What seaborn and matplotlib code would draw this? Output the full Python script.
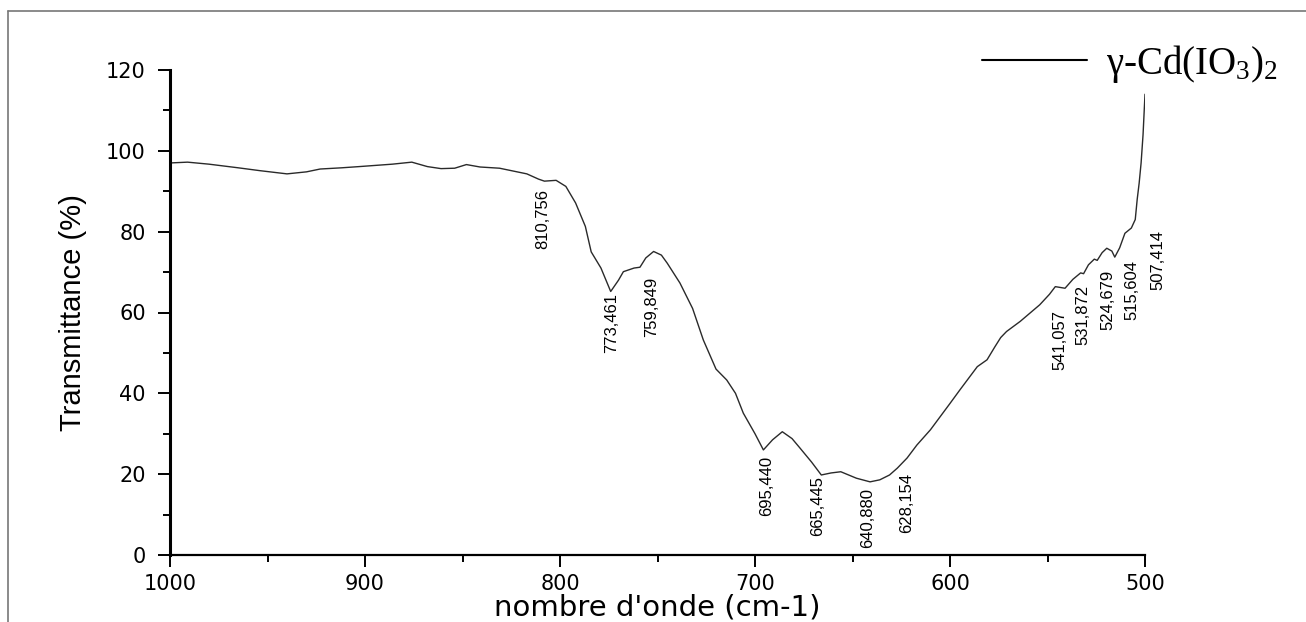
import numpy as np
import pandas as pd
import matplotlib
matplotlib.use("Agg")
import matplotlib.pyplot as plt
from matplotlib.lines import Line2D
from matplotlib.ticker import MultipleLocator
import seaborn as sns

# --- spectre IR (nombre d'onde en cm-1, transmittance en %) ---
wavenumber = [1000, 991, 980, 965, 954, 940, 930, 923, 912, 903, 886, 876, 868, 861,
              854, 848, 841, 831, 824, 817, 811, 808, 802, 797, 792, 787, 784, 779,
              774, 770, 767.5, 762, 759, 756, 752, 748, 745, 738.5, 732, 726.5, 720,
              714.5, 710, 706, 700, 695.7, 691, 686, 681, 677, 671, 666, 661, 656,
              652, 648, 641, 636, 631, 627, 622, 617, 610, 600, 595, 586, 581, 577,
              574, 571, 564, 554, 549, 546, 541, 537, 533, 531.5, 529, 526, 524.5,
              522, 519.6, 517, 515.5, 513, 510.3, 507, 505, 504, 503, 502, 501, 500]
transmittance = [97.0, 97.2, 96.7, 95.8, 95.1, 94.3, 94.8, 95.5, 95.8, 96.1, 96.7, 97.2,
                 96.1, 95.6, 95.7, 96.6, 96.0, 95.7, 95.0, 94.3, 93.0, 92.5, 92.7, 91.2,
                 87.1, 81.3, 75.0, 71.0, 65.2, 68.0, 70.1, 71.0, 71.2, 73.5, 75.1, 74.2,
                 72.2, 67.3, 61.0, 53.2, 46.0, 43.3, 40.0, 35.1, 30.0, 26.0, 28.5, 30.5,
                 28.8, 26.5, 23.0, 19.8, 20.3, 20.6, 19.8, 19.0, 18.1, 18.6, 19.8, 21.5,
                 24.0, 27.2, 31.0, 37.5, 40.8, 46.6, 48.3, 51.5, 53.8, 55.3, 57.8, 61.9,
                 64.5, 66.4, 66.0, 68.2, 69.8, 69.6, 71.8, 73.2, 72.9, 74.8, 75.9, 75.2,
                 73.7, 76.0, 79.6, 80.9, 83.0, 88.0, 92.0, 97.0, 104.0, 114.0]

# pics annotés
peak_labels = ["810,756", "773,461", "759,849", "695,440", "665,445", "640,880",
               "628,154", "541,057", "531,872", "524,679", "515,604", "507,414"]
label_x = [808.7, 773.3, 752.8, 693.8, 667.7, 642.1, 622.1, 543.6, 531.8, 519.0, 506.7, 493.3]
label_y = [90.6, 64.9, 68.8, 24.6, 19.6, 16.6, 20.3, 60.6, 66.8, 70.5, 73.0, 80.4]

serie = "γ-Cd(IO$_\\mathrm{3}$)$_\\mathrm{2}$"

df = pd.DataFrame({"nu": wavenumber, "T": transmittance})

sns.set_style("ticks")
plt.rcParams["font.family"] = ["DejaVu Sans"]
plt.rcParams["mathtext.fontset"] = "custom"
plt.rcParams["mathtext.rm"] = "Liberation Serif"
plt.rcParams["mathtext.it"] = "Liberation Serif:italic"
for k in ["text.color", "axes.labelcolor", "xtick.color", "ytick.color", "axes.edgecolor"]:
    plt.rcParams[k] = "black"

fig = plt.figure(figsize=(13.06, 6.22), dpi=100)
ax = fig.add_axes([170 / 1306, 67 / 622, 975 / 1306, 485 / 622])

sns.lineplot(data=df, x="nu", y="T", ax=ax, color="#2a2a2a", lw=1.0,
             label=serie, estimator=None)

ax.set_xlim(1000, 500)
ax.set_ylim(0, 120)
ax.xaxis.set_major_locator(MultipleLocator(100))
ax.xaxis.set_minor_locator(MultipleLocator(50))
ax.yaxis.set_major_locator(MultipleLocator(20))
ax.yaxis.set_minor_locator(MultipleLocator(10))
sns.despine(ax=ax)
ax.spines["left"].set_linewidth(2.2)
ax.spines["bottom"].set_linewidth(1.6)
ax.tick_params(axis="both", which="major", direction="out", length=8.5, width=1.4,
               labelsize=15, pad=5)
ax.tick_params(axis="both", which="minor", direction="out", length=5, width=1.4)
ax.tick_params(axis="y", which="major", pad=9)

ax.set_xlabel("nombre d'onde (cm-1)", fontsize=21, labelpad=0)
ax.set_ylabel("Transmittance (%)", fontsize=21, labelpad=14, family="Liberation Sans")

for s, x, y in zip(peak_labels, label_x, label_y):
    ax.text(x, y, s, rotation=90, ha="center", va="top", fontsize=12,
            family="Liberation Sans")

ax.legend(loc="center left", bbox_to_anchor=(982 / 1306, 1 - 64 / 622),
          bbox_transform=fig.transFigure, frameon=False, borderpad=0,
          borderaxespad=0, handlelength=2.7, handletextpad=0.5,
          prop={"family": "Liberation Serif", "size": 28})
for h in ax.get_legend().get_lines():
    h.set_color("black")
    h.set_linewidth(1.5)

# cadre de l'image d'origine (seuls le haut et la gauche sont visibles)
fig.add_artist(Line2D([8 / 1306, 1], [1 - 11 / 622, 1 - 11 / 622],
                      transform=fig.transFigure, color="#777777", lw=1.2))
fig.add_artist(Line2D([8 / 1306, 8 / 1306], [0, 1 - 11 / 622],
                      transform=fig.transFigure, color="#777777", lw=1.2))

fig.savefig("out.png", dpi=100, facecolor="white")
